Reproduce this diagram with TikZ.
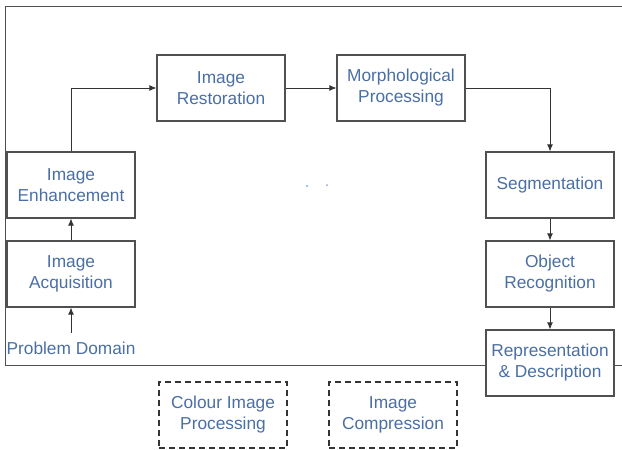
\documentclass[tikz,border=0pt]{standalone}
\usepackage{fontspec}
\setmainfont{Liberation Sans}
\usetikzlibrary{arrows.meta}
\definecolor{txt}{HTML}{4A6FA5}
\definecolor{edge}{HTML}{505050}
\begin{document}
\begin{tikzpicture}[x=1pt,y=-1pt,
  box/.style={draw=edge,line width=1.2pt,fill=white,minimum width=128pt,minimum height=66pt,
    align=center,text=txt,font=\fontsize{17.3}{21}\selectfont,inner sep=0pt},
  dbox/.style={box,dashed,dash pattern=on 6pt off 4pt,line width=1.6pt,draw=black!80},
  conn/.style={draw=black!80,line width=0.9pt,-{Latex[length=7pt,width=6pt]}}]
\useasboundingbox (0,0) rectangle (622,450);
\draw[edge,line width=1pt] (622,6) -- (5,6) -- (5,365) -- (622,365);
\node[box] (enh) at (71,185) {Image\\Enhancement};
\node[box] (acq) at (71,274) {Image\\Acquisition};
\node[text=txt,font=\fontsize{17.3}{21}\selectfont,inner sep=0pt] (pd) at (71,348) {Problem Domain};
\node[box] (res) at (221,88) {Image\\Restoration};
\node[box] (mor) at (401,88) {Morphological\\Processing};
\node[box] (seg) at (550,185) {Segmentation};
\node[box] (obj) at (550,274) {Object\\Recognition};
\node[box] (rep) at (550,363) {Representation\\\& Description};
\node[dbox] (col) at (223,415) {Colour Image\\Processing};
\node[dbox] (cmp) at (393,415) {Image\\Compression};
\coordinate (pdtop) at (71,333);
\draw[conn] (pdtop) -- (acq.south);
\draw[conn] (acq.north) -- (enh.south);
\draw[conn] (enh.north) |- (res.west);
\draw[conn] (res.east) -- (mor.west);
\draw[conn] (mor.east) -| (seg.north);
\draw[conn] (seg.south) -- (obj.north);
\draw[conn] (obj.south) -- (rep.north);
\fill[cyan!80!blue!60] (307,186) circle (1.2pt);
\fill[blue!30!gray!60] (327,185) circle (1pt);
\end{tikzpicture}
\end{document}
